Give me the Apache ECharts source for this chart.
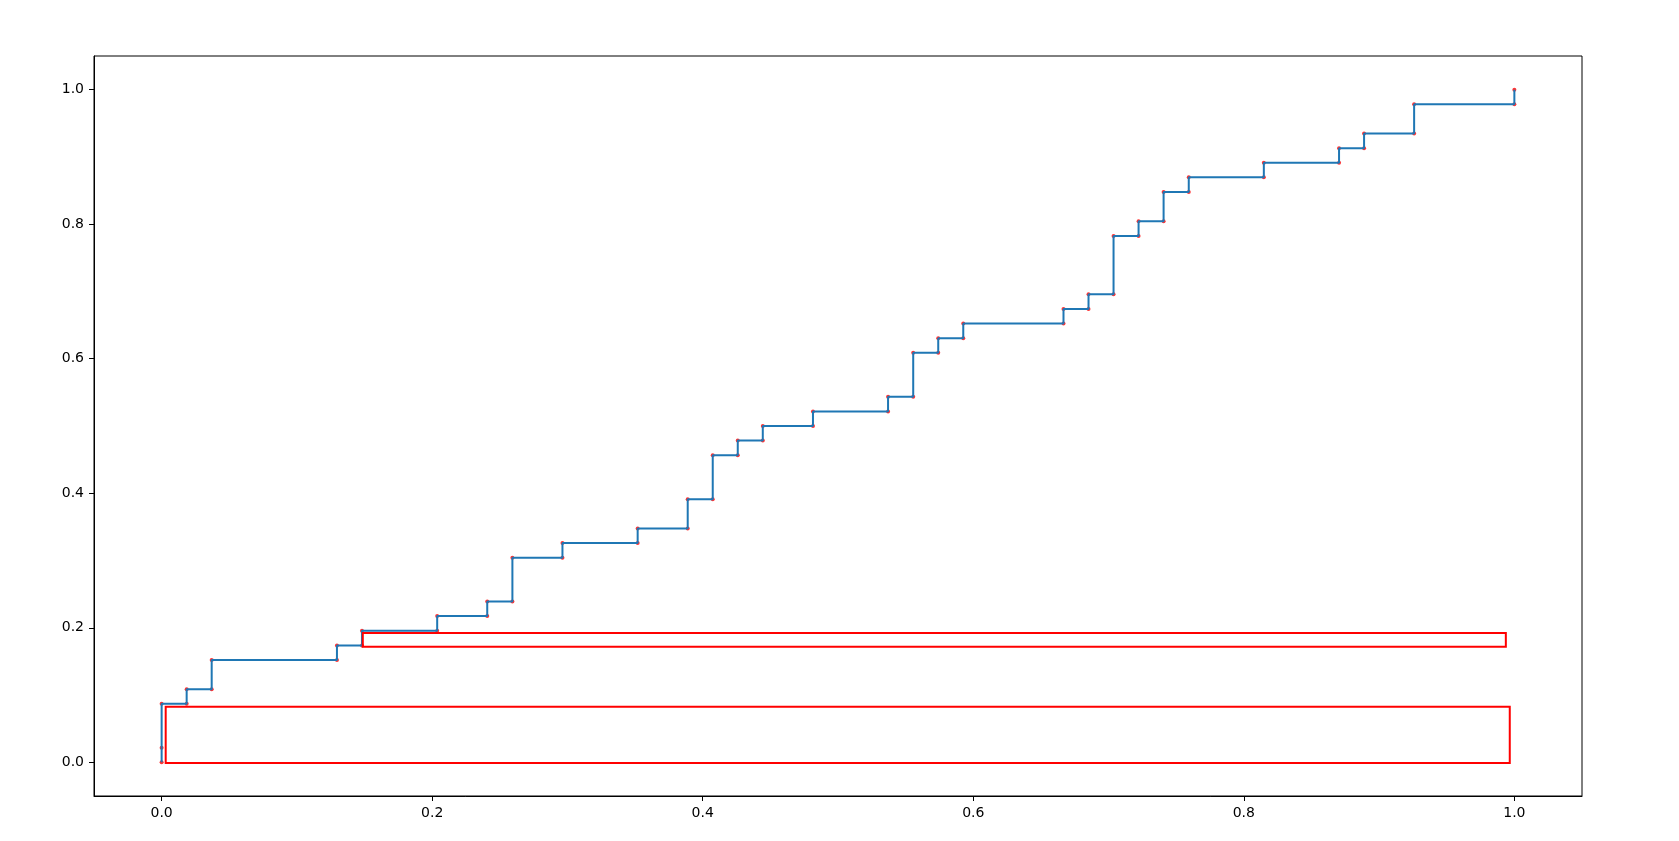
<!DOCTYPE html>
<html>
<head>
<meta charset="utf-8">
<script src="https://cdn.jsdelivr.net/npm/echarts@6/dist/echarts.min.js"></script>
<style>
html,body{margin:0;padding:0;background:#fff;}
#chart{width:1679px;height:841px;}
</style>
</head>
<body>
<div id="chart"></div>
<script>
// ROC-style step curve corner points (false positive rate, true positive rate)
var fpr = [0, 0, 0, 0.0185, 0.0185, 0.0370, 0.0370, 0.1296, 0.1296, 0.1481, 0.1481, 0.2037, 0.2037, 0.2407, 0.2407, 0.2593, 0.2593, 0.2963, 0.2963, 0.3519, 0.3519, 0.3889, 0.3889, 0.4074, 0.4074, 0.4259, 0.4259, 0.4444, 0.4444, 0.4815, 0.4815, 0.5370, 0.5370, 0.5556, 0.5556, 0.5741, 0.5741, 0.5926, 0.5926, 0.6667, 0.6667, 0.6852, 0.6852, 0.7037, 0.7037, 0.7222, 0.7222, 0.7407, 0.7407, 0.7593, 0.7593, 0.8148, 0.8148, 0.8704, 0.8704, 0.8889, 0.8889, 0.9259, 0.9259, 1.0, 1.0];
var tpr = [0, 0.0217, 0.0870, 0.0870, 0.1087, 0.1087, 0.1522, 0.1522, 0.1739, 0.1739, 0.1957, 0.1957, 0.2174, 0.2174, 0.2391, 0.2391, 0.3043, 0.3043, 0.3261, 0.3261, 0.3478, 0.3478, 0.3913, 0.3913, 0.4565, 0.4565, 0.4783, 0.4783, 0.5, 0.5, 0.5217, 0.5217, 0.5435, 0.5435, 0.6087, 0.6087, 0.6304, 0.6304, 0.6522, 0.6522, 0.6739, 0.6739, 0.6957, 0.6957, 0.7826, 0.7826, 0.8043, 0.8043, 0.8478, 0.8478, 0.8696, 0.8696, 0.8913, 0.8913, 0.9130, 0.9130, 0.9348, 0.9348, 0.9783, 0.9783, 1.0];

// Highlight rectangles: [x0, y0, x1, y1]
var rect1 = [0.003, -0.001, 0.9966, 0.0828];
var rect2 = [0.1487, 0.172, 0.9937, 0.1924];

var xTicks = [0.0, 0.2, 0.4, 0.6, 0.8, 1.0];
var yTicks = [0.0, 0.2, 0.4, 0.6, 0.8, 1.0];

var points = fpr.map(function (x, i) { return [x, tpr[i]]; });

var chart = echarts.init(document.getElementById('chart'), null, {renderer: 'canvas'});
var font = 'DejaVu Sans';
function axisCommon(ticks) {
  return {
    type: 'value',
    min: -0.05,
    max: 1.05,
    splitLine: {show: false},
    axisLine: {show: true, onZero: false, lineStyle: {color: '#000', width: 1}},
    axisTick: {show: true, length: 5, inside: false, customValues: ticks, lineStyle: {color: '#000', width: 1}},
    axisLabel: {
      customValues: ticks,
      color: '#000',
      fontFamily: font,
      fontSize: 14,
      formatter: function (v) { return v.toFixed(1); }
    }
  };
}
var xAxis = axisCommon(xTicks);
xAxis.position = 'bottom';
xAxis.axisLabel.margin = 10;
var yAxis = axisCommon(yTicks);
yAxis.position = 'left';
yAxis.axisLabel.margin = 10;

chart.setOption({
  animation: false,
  backgroundColor: '#fff',
  grid: {left: 94, right: 97, top: 56, bottom: 45, show: true, borderColor: '#000', borderWidth: 1, backgroundColor: 'transparent'},
  xAxis: xAxis,
  yAxis: yAxis,
  series: [
    {
      type: 'scatter',
      data: points,
      symbol: 'circle',
      symbolSize: 4,
      itemStyle: {color: '#ff0000'},
      z: 2,
      silent: true
    },
    {
      type: 'line',
      data: points,
      showSymbol: false,
      symbol: 'none',
      lineStyle: {color: '#1f77b4', width: 2},
      z: 3,
      silent: true
    },
    {
      type: 'custom',
      data: [rect1, rect2],
      z: 4,
      silent: true,
      renderItem: function (params, api) {
        var p0 = api.coord([api.value(0), api.value(3)]);
        var p1 = api.coord([api.value(2), api.value(1)]);
        return {
          type: 'rect',
          shape: {x: p0[0], y: p0[1], width: p1[0] - p0[0], height: p1[1] - p0[1]},
          style: {fill: 'none', stroke: '#ff0000', lineWidth: 2}
        };
      }
    }
  ]
});
</script>
</body>
</html>
